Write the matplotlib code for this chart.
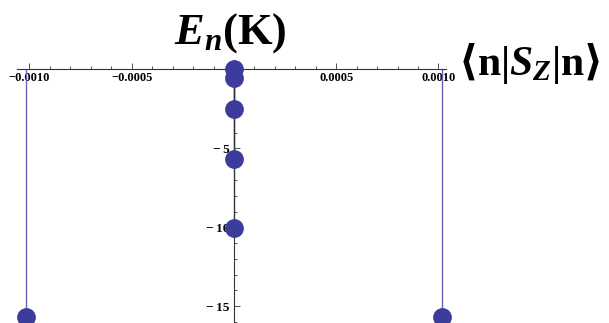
import matplotlib
matplotlib.use("Agg")
import matplotlib.pyplot as plt
from matplotlib.ticker import MultipleLocator

# data
sz_values = [0.0, 0.0, 0.0, 0.0, 0.0, -0.001015, 0.001015]
energies = [0.0, -0.57, -2.53, -5.7, -10.06, -15.7, -15.7]
xticks = [-0.0010, -0.0005, 0.0005, 0.0010]
xtick_labels = ["\u22120.0010", "\u22120.0005", "0.0005", "0.0010"]
yticks = [-15, -10, -5]
ytick_labels = ["\u2212\u200915", "\u2212\u200910", "\u2212\u20095"]

plt.rcParams["mathtext.fontset"] = "custom"
plt.rcParams["mathtext.rm"] = "Liberation Serif:bold"
plt.rcParams["mathtext.it"] = "Liberation Serif:italic:bold"
plt.rcParams["mathtext.bf"] = "Liberation Serif:bold"
plt.rcParams["mathtext.sf"] = "DejaVu Serif:bold"  # only used for the angle brackets

W, H = 609, 323
fig = plt.figure(figsize=(W / 100, H / 100), dpi=100)
ax = fig.add_axes([17 / W, 0, (446 - 17) / W, (323 - 60) / H])
ax.set_xlim(-0.001061, 0.001037)
ax.set_ylim(-16.06, 0.6)

# axes through the origin
for side in ["top", "right"]:
    ax.spines[side].set_visible(False)
ax.spines["left"].set_position(("data", 0))
ax.spines["bottom"].set_position(("data", 0))
for side in ["left", "bottom"]:
    ax.spines[side].set_color("#333333")
    ax.spines[side].set_linewidth(0.8)

ax.set_xticks(xticks, labels=xtick_labels)
ax.set_yticks(yticks, labels=ytick_labels)
ax.xaxis.set_minor_locator(MultipleLocator(0.0001))
ax.yaxis.set_minor_locator(MultipleLocator(1))
ax.tick_params(which="both", direction="in", color="#333333", width=0.6)
ax.tick_params(which="major", length=4)
ax.tick_params(which="minor", length=2.5)
ax.tick_params(axis="x", pad=2)
ax.tick_params(axis="y", pad=3)
for lab in ax.get_xticklabels():
    lab.set_fontfamily(["Liberation Serif", "DejaVu Serif"])
    lab.set_fontweight("bold")
    lab.set_fontsize(9)
for lab in ax.get_yticklabels():
    lab.set_fontfamily(["Liberation Serif", "DejaVu Serif"])
    lab.set_fontweight("bold")
    lab.set_fontsize(9.5)

# stems down to each level, then the dots
ax.vlines(sz_values, 0, energies, color="#6464b8", lw=1.0, zorder=2)
ax.plot(sz_values, energies, "o", ms=12.5, color="#3b3c9c", mec="#3b3c9c",
        zorder=3, clip_on=False)

fig.text(230 / W, 1 - 44 / H, r"$E_n\mathrm{(K)}$", ha="center", va="baseline",
         fontsize=32)
fig.text(458 / W, 1 - 75 / H,
         "$\\mathsf{\u27e8}\\mathrm{n}|S_Z|\\mathrm{n}\\mathsf{\u27e9}$",
         ha="left", va="baseline", fontsize=30)

fig.savefig("out.png", dpi=100)
